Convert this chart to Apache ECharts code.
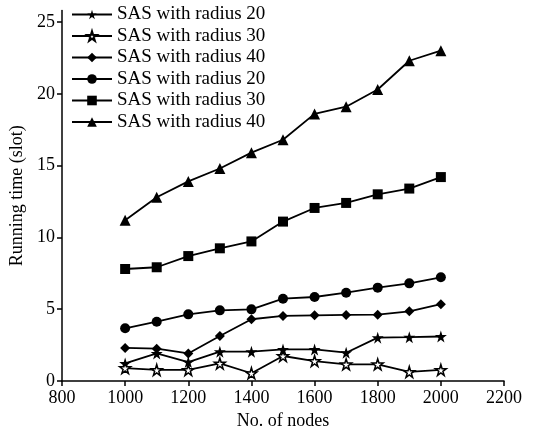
<!DOCTYPE html>
<html>
<head>
<meta charset="utf-8">
<script src="https://cdn.jsdelivr.net/npm/echarts@6/dist/echarts.min.js"></script>
<style>
  html, body { margin: 0; padding: 0; background: #fff; }
  #chart { width: 557px; height: 438px; }
</style>
</head>
<body>
<div id="chart"></div>
<script>
// x axis: number of nodes
const nodes = [1000, 1100, 1200, 1300, 1400, 1500, 1600, 1700, 1800, 1900, 2000]
const yTicks = [0, 5, 10, 15, 20, 25]

// running time (slot)
const starR20 = [1.22, 1.92, 1.32, 2.04, 2.04, 2.2, 2.2, 1.97, 3.02, 3.05, 3.1]
const starR30 = [0.9, 0.77, 0.77, 1.22, 0.54, 1.74, 1.39, 1.16, 1.16, 0.63, 0.77]
const diamondR40 = [2.3, 2.25, 1.92, 3.13, 4.3, 4.53, 4.57, 4.6, 4.62, 4.85, 5.35]
const circleR20 = [3.67, 4.13, 4.64, 4.92, 4.99, 5.73, 5.85, 6.15, 6.5, 6.8, 7.22]
const squareR30 = [7.8, 7.92, 8.7, 9.24, 9.72, 11.1, 12.05, 12.4, 13.0, 13.4, 14.2]
const triangleR40 = [11.2, 12.8, 13.9, 14.8, 15.9, 16.8, 18.6, 19.1, 20.3, 22.3, 23.0]

const FONT = 'Liberation Serif'
const STAR = 'path://M50,0 L61,35 L98,35 L68,57 L79,91 L50,70 L21,91 L32,57 L2,35 L39,35 Z'

function pairs(vals) {
  return nodes.map((n, i) => [n, vals[i]])
}

function makeSeries(name, vals, symbol, size, hollow) {
  return {
    name: name,
    type: 'line',
    data: pairs(vals),
    symbol: symbol,
    symbolSize: size,
    showAllSymbol: true,
    lineStyle: { color: '#000', width: 1.8 },
    itemStyle: hollow
      ? { color: '#fff', borderColor: '#000', borderWidth: 1.5 }
      : { color: '#000', borderWidth: 0 },
    emphasis: { disabled: true },
    animation: false
  }
}

const myChart = echarts.init(document.getElementById('chart'))
myChart.setOption({
  animation: false,
  textStyle: { fontFamily: FONT, color: '#000' },
  grid: { left: 62, right: 53, top: 10.5, bottom: 57, containLabel: false },
  legend: {
    orient: 'vertical',
    left: 66,
    top: 0,
    itemWidth: 40,
    itemHeight: 12,
    itemGap: 2.5,
    textStyle: { fontFamily: FONT, fontSize: 19, color: '#000' },
    data: [
      'SAS with radius 20 ',
      'SAS with radius 30 ',
      'SAS with radius 40 ',
      'SAS with radius 20',
      'SAS with radius 30',
      'SAS with radius 40'
    ]
  },
  xAxis: {
    type: 'value',
    min: 800,
    max: 2200,
    interval: 200,
    name: 'No. of nodes',
    nameLocation: 'middle',
    nameGap: 30,
    nameTextStyle: { fontFamily: FONT, fontSize: 18, color: '#000' },
    axisLine: { lineStyle: { color: '#000', width: 1.5 } },
    axisTick: { length: 5, lineStyle: { color: '#000', width: 1.5 } },
    axisLabel: {
      fontFamily: FONT, fontSize: 18, color: '#000', margin: 8,
      formatter: function (v) { return String(v) }
    },
    splitLine: { show: false }
  },
  yAxis: {
    type: 'value',
    min: 0,
    max: 25.8,
    name: 'Running time (slot)',
    nameLocation: 'middle',
    nameGap: 26,
    nameTextStyle: { fontFamily: FONT, fontSize: 18, color: '#000' },
    axisLine: { show: true, lineStyle: { color: '#000', width: 1.5 } },
    axisTick: { show: true, length: 5, customValues: yTicks, lineStyle: { color: '#000', width: 1.5 } },
    axisLabel: { fontFamily: FONT, fontSize: 18, color: '#000', margin: 7, customValues: yTicks },
    splitLine: { show: false }
  },
  series: [
    makeSeries('SAS with radius 20 ', starR20, STAR, 12, false),
    makeSeries('SAS with radius 30 ', starR30, STAR, 11, true),
    makeSeries('SAS with radius 40 ', diamondR40, 'diamond', 10, false),
    makeSeries('SAS with radius 20', circleR20, 'circle', 10, false),
    makeSeries('SAS with radius 30', squareR30, 'rect', 10, false),
    makeSeries('SAS with radius 40', triangleR40, 'triangle', 11, false)
  ]
})
</script>
</body>
</html>
